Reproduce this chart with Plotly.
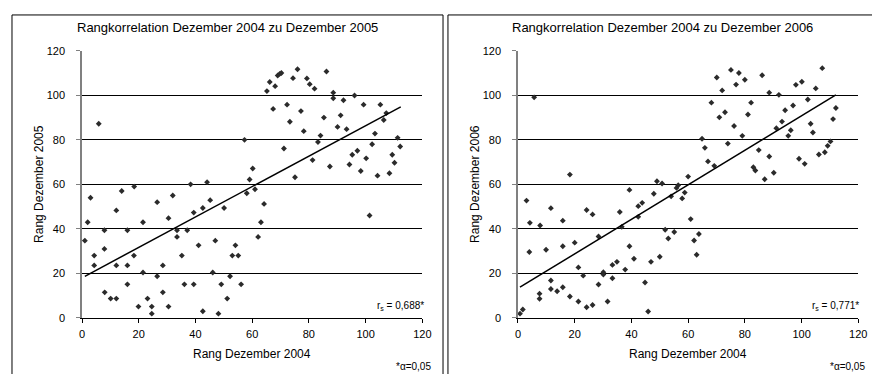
import plotly.graph_objects as go

# ---------------- data ----------------
rank04_a = [5.9,18.4,38.3,44.1,57.3,1.0,2.0,3.0,4.3,4.3,
            7.9,7.9,8.0,10.1,12.1,12.1,12.1,14.0,16.0,16.0,
            16.0,18.3,19.9,21.5,21.5,23.1,24.6,24.6,26.5,26.5,
            28.5,28.5,30.5,30.5,32.0,33.5,33.5,35.2,36.1,37.1,
            39.4,39.4,41.1,42.6,42.6,45.2,46.1,47.0,48.1,49.1,
            50.1,51.2,52.2,53.0,54.1,55.1,56.1,58.1,59.1,60.2,
            61.0,64.2,63.1,62.1,65.2,66.2,68.1,69.0,69.7,70.3,
            67.4,71.2,72.3,73.3,74.4,75.1,76.0,77.2,78.2,79.3,
            80.3,81.3,82.0,83.2,84.1,85.3,86.2,87.4,88.6,88.6,
            90.1,91.2,92.2,93.3,94.3,95.3,96.1,97.1,98.3,99.3,
            100.2,101.4,102.3,103.3,104.2,105.2,106.4,107.3,108.4,109.4,
            110.2,111.3,112.2]
rank05 = [87.2,59,60,61,80,34.7,43,54,28,23.6,
          39.4,31,11.5,8.7,8.7,48.3,23.6,57,39.4,23.6,
          15.1,28,5.1,43,20.4,8.7,5.1,1.9,52,18.7,
          23.6,11.5,44.8,5.1,55,39.4,36.4,28,15.1,39.4,
          47.3,15.1,32.6,49.4,3.0,52.9,20.4,34.7,1.9,15.1,
          49.4,8.7,18.7,28,32.6,28,15.1,56,62.2,67.1,
          57.8,51.2,43,36.4,101.9,106,104.1,108.9,109.6,110,
          93.9,76.1,95.8,88.1,107.7,63.2,111.7,92.9,83.9,107.6,
          105,70.9,103,79,81.9,90,110.7,68,101.2,98.7,
          85.8,91,97.8,84.8,68.9,73.3,99.9,75.1,66,95.8,
          71.7,46,78,82.8,63.9,95.8,88.9,92,65,73.3,
          69.7,80.9,77]

rank04_b = [5.7,18.3,49.0,50.8,56.5,
            0.7,1.7,3.0,4.0,4.2,7.6,7.6,7.8,9.9,11.6,
            11.6,11.6,13.8,15.8,15.8,15.8,18.3,20.0,21.3,21.3,
            23.0,24.2,24.2,26.3,26.3,28.4,28.4,30.1,30.1,31.6,
            33.3,33.3,34.9,35.9,36.6,37.8,39.3,39.3,40.9,42.4,
            43.8,42.4,44.8,45.9,46.9,47.9,50.0,51.9,53.0,54.0,
            55.1,55.9,57.9,58.8,
            60.0,64.9,65.9,67.0,68.2,69.2,70.1,71.0,72.0,73.0,
            74.0,75.1,76.2,76.9,77.9,79.1,80.0,81.1,82.2,83.0,
            83.7,84.9,86.1,87.0,88.6,88.6,90.2,91.1,92.0,93.1,
            94.2,95.3,96.2,97.0,98.0,99.1,100.1,101.1,102.2,103.2,
            104.0,105.0,106.1,107.3,108.2,109.2,110.2,111.1,112.1,
            60.9,63.8,62.1,63.0]
rank06 = [99.1,64.4,61.4,60.4,59.6,
          1.9,3.8,52.7,29.6,42.7,8.6,10.9,41.5,30.6,49.3,
          16.8,13.0,12.0,43.7,32.2,13.8,9.6,33.8,22.7,7.4,
          19.0,48.5,4.8,46.5,5.8,36.6,15.0,20.5,19.5,7.4,
          23.8,17.8,25.2,47.6,40.9,21.7,57.5,32.2,26.6,50.2,
          51.7,45.4,15.9,2.9,25.2,55.8,27.5,39.6,35.7,54.6,
          38.6,58.4,53.7,56.3,
          63.5,80.5,76.4,70.3,96.7,68.3,108,90.1,102.2,92.4,
          78.3,111.4,86.2,104.8,110,81.8,107,91.4,96.7,67.7,
          66.2,75.4,109,62.3,101.2,72.5,65.2,85.2,100.2,88.2,
          93.3,81.8,84.3,95.4,104.7,71.5,106.1,69.2,98.1,87.2,
          83.3,103.1,73.4,112.2,74.4,77.3,79.3,89.3,94.3,
          44.4,37.7,34.8,28.4]

trend_a_x = [1.0, 112.4]
trend_a_y = [18.7, 94.8]
trend_b_x = [0.7, 112.1]
trend_b_y = [13.8, 100.2]

titles = ["Rangkorrelation Dezember 2004 zu Dezember 2005",
          "Rangkorrelation Dezember 2004 zu Dezember 2006"]
y_titles = ["Rang Dezember 2005", "Rang Dezember 2006"]
x_title = "Rang Dezember 2004"
rs_texts = ["r<sub>s</sub> = 0,688*", "r<sub>s</sub> = 0,771*"]
alpha_text = "*α=0,05"
tick_vals = [0, 20, 40, 60, 80, 100, 120]

# ---------------- figure ----------------
W, H = 880, 374
FONT = "Liberation Sans, Arial, sans-serif"
fig = go.Figure()

marker = dict(symbol="diamond", size=4.5, color="#2b2b2b", line=dict(width=0))
fig.add_trace(go.Scatter(x=rank04_a, y=rank05, mode="markers", marker=marker,
                         xaxis="x", yaxis="y", showlegend=False))
fig.add_trace(go.Scatter(x=trend_a_x, y=trend_a_y, mode="lines",
                         line=dict(color="black", width=1.5),
                         xaxis="x", yaxis="y", showlegend=False))
fig.add_trace(go.Scatter(x=rank04_b, y=rank06, mode="markers", marker=marker,
                         xaxis="x2", yaxis="y2", showlegend=False))
fig.add_trace(go.Scatter(x=trend_b_x, y=trend_b_y, mode="lines",
                         line=dict(color="black", width=1.5),
                         xaxis="x2", yaxis="y2", showlegend=False))

px_l = [72, 514]
px_r = [417, 859]
py_t, py_b = 38, 314

def xdom(i):
    return [px_l[i] / W, px_r[i] / W]

ydom = [1 - py_b / H, 1 - py_t / H]

common_x = dict(range=[0, 120], tickvals=tick_vals, showgrid=False, zeroline=False,
                showline=True, linecolor="black", linewidth=1, ticks="outside",
                ticklen=4, tickcolor="black", ticklabelstandoff=2,
                tickfont=dict(family=FONT, size=11, color="black"),
                fixedrange=True)
common_y = dict(range=[0, 120], tickvals=tick_vals, showgrid=True, gridcolor="black",
                gridwidth=1, zeroline=False, showline=True, linecolor="#808080", linewidth=1.5,
                ticks="outside", ticklen=4, tickcolor="#808080", ticklabelstandoff=9,
                tickfont=dict(family=FONT, size=11, color="black"), fixedrange=True)

fig.update_layout(
    width=W, height=H, margin=dict(l=0, r=0, t=0, b=0),
    paper_bgcolor="white", plot_bgcolor="white",
    xaxis=dict(domain=xdom(0), anchor="y", **common_x),
    yaxis=dict(domain=ydom, anchor="x", **common_y),
    xaxis2=dict(domain=xdom(1), anchor="y2", **common_x),
    yaxis2=dict(domain=ydom, anchor="x2", **common_y),
)

boxes = [(1, 438), (443, 878)]
shapes = []
for (a, b) in boxes:
    shapes.append(dict(type="rect", xref="paper", yref="paper",
                       x0=a / W, x1=b / W, y0=1 / H, y1=1 - 1 / H,
                       line=dict(color="black", width=1), fillcolor="rgba(0,0,0,0)"))
fig.update_layout(shapes=shapes)

ann = []
for i in range(2):
    cx_box = (boxes[i][0] + boxes[i][1]) / 2
    ann.append(dict(text=titles[i], x=cx_box / W, y=1 - 14 / H, xref="paper", yref="paper",
                    xanchor="center", yanchor="middle", showarrow=False,
                    font=dict(family=FONT, size=13, color="black")))
    ycx = [29, 471][i]
    ann.append(dict(text=y_titles[i], x=ycx / W, y=1 - 176 / H, xref="paper", yref="paper",
                    xanchor="center", yanchor="middle", showarrow=False, textangle=-90,
                    font=dict(family=FONT, size=12, color="black")))
    cx_plot = (px_l[i] + px_r[i]) / 2
    ann.append(dict(text=x_title, x=cx_plot / W, y=1 - 351 / H, xref="paper", yref="paper",
                    xanchor="center", yanchor="middle", showarrow=False,
                    font=dict(family=FONT, size=12, color="black")))
    rx = [421, 862][i]
    ann.append(dict(text=rs_texts[i], x=rx / W, y=1 - 302 / H, xref="paper", yref="paper",
                    xanchor="right", yanchor="middle", showarrow=False,
                    font=dict(family=FONT, size=10, color="black")))
    ax_ = [428, 868][i]
    ann.append(dict(text=alpha_text, x=ax_ / W, y=1 - 364 / H, xref="paper", yref="paper",
                    xanchor="right", yanchor="middle", showarrow=False,
                    font=dict(family=FONT, size=10, color="black")))
fig.update_layout(annotations=ann)

fig.write_html("out.html")
